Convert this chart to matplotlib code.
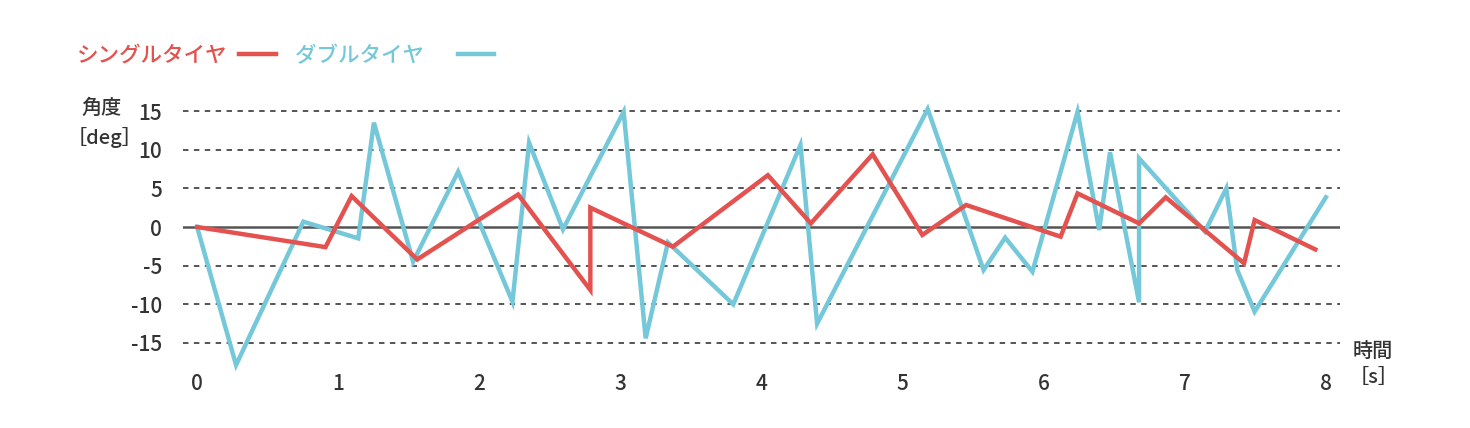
import matplotlib
matplotlib.use("Agg")
import matplotlib.pyplot as plt

plt.rcParams['font.family'] = ['Noto Sans CJK JP', 'DejaVu Sans']

# Single tyre (シングルタイヤ)
single_t = [0.0, 0.91, 1.095, 1.56, 2.275, 2.787, 2.787, 3.372, 4.045, 4.35,
            4.788, 5.14, 5.45, 6.12, 6.24, 6.676, 6.865, 7.42, 7.495, 7.925]
single_v = [0.0, -2.6, 4.0, -4.2, 4.2, -8.15, 2.5, -2.55, 6.7, 0.47,
            9.4, -1.03, 2.85, -1.25, 4.35, 0.47, 3.84, -4.7, 0.9, -2.9]

# Double tyre (ダブルタイヤ)
double_t = [0.0, 0.276, 0.753, 1.142, 1.253, 1.531, 1.85, 2.235, 2.353, 2.593,
            3.023, 3.179, 3.337, 3.80, 4.276, 4.394, 5.178, 5.574, 5.727, 5.92,
            6.24, 6.393, 6.47, 6.676, 6.676, 7.143, 7.294, 7.372, 7.495, 8.0]
double_v = [0.0, -17.85, 0.69, -1.47, 13.5, -4.48, 7.15, -9.66, 10.9, -0.3,
            14.9, -14.4, -2.0, -10.0, 10.6, -12.5, 15.26, -5.56, -1.38, -5.78,
            14.9, -0.39, 9.66, -9.74, 8.88, -0.6, 5.0, -5.56, -10.95, 3.84]

x_ticks = [0, 1, 2, 3, 4, 5, 6, 7, 8]
y_ticks = [15, 10, 5, 0, -5, -10, -15]

RED = "#E3524F"
BLUE = "#74C8D9"
GRID = "#555555"
TXT = "#333333"
W = 'medium'

fig = plt.figure(figsize=(14.7, 4.28), dpi=100)
ax = fig.add_axes([183/1470, 1-373.9/428, (1340-183)/1470, (373.9-103.3)/428])
ax.set_xlim(-0.1, 8.1)
ax.set_ylim(-19, 16)

for y in y_ticks:
    if y == 0:
        ax.axhline(y, color=GRID, lw=1.8, zorder=1)
    else:
        ax.axhline(y, color=GRID, lw=1.4, ls=(0, (2.8, 2.8)), zorder=1)

ax.plot(double_t, double_v, color=BLUE, lw=3.2, label="ダブルタイヤ\u3000",
        solid_joinstyle='miter', zorder=2)
ax.plot(single_t, single_v, color=RED, lw=3.2, label="シングルタイヤ",
        solid_joinstyle='miter', zorder=3)

for s in ax.spines.values():
    s.set_visible(False)
ax.set_xticks(x_ticks)
ax.set_yticks(y_ticks)
ax.set_xticklabels([str(v) for v in x_ticks], fontweight=W)
ax.set_yticklabels([str(v) for v in y_ticks], fontweight=W)
ax.tick_params(axis='both', length=0, labelsize=15, colors=TXT)
ax.tick_params(axis='x', pad=-1)
ax.tick_params(axis='y', pad=15)

fig.text(102/1470, 1-108/428, "角度", fontsize=14.5, color=TXT, ha='center', va='center', fontweight=W)
fig.text(105/1470, 1-137/428, "［deg］", fontsize=14.5, color=TXT, ha='center', va='center', fontweight=W)
fig.text(1373/1470, 1-351/428, "時間", fontsize=14.5, color=TXT, ha='center', va='center', fontweight=W)
fig.text(1374/1470, 1-377/428, "［s］", fontsize=14.5, color=TXT, ha='center', va='center', fontweight=W)

h, l = ax.get_legend_handles_labels()
leg = fig.legend(h[::-1], l[::-1], loc='center left', bbox_to_anchor=(77/1470, 1-56/428),
                 ncol=2, frameon=False, markerfirst=False,
                 prop={'size': 15.5, 'weight': W},
                 handlelength=1.7, handletextpad=0.55, columnspacing=0.9,
                 borderpad=0, borderaxespad=0, labelcolor='linecolor')

fig.savefig("out.png", dpi=100)
